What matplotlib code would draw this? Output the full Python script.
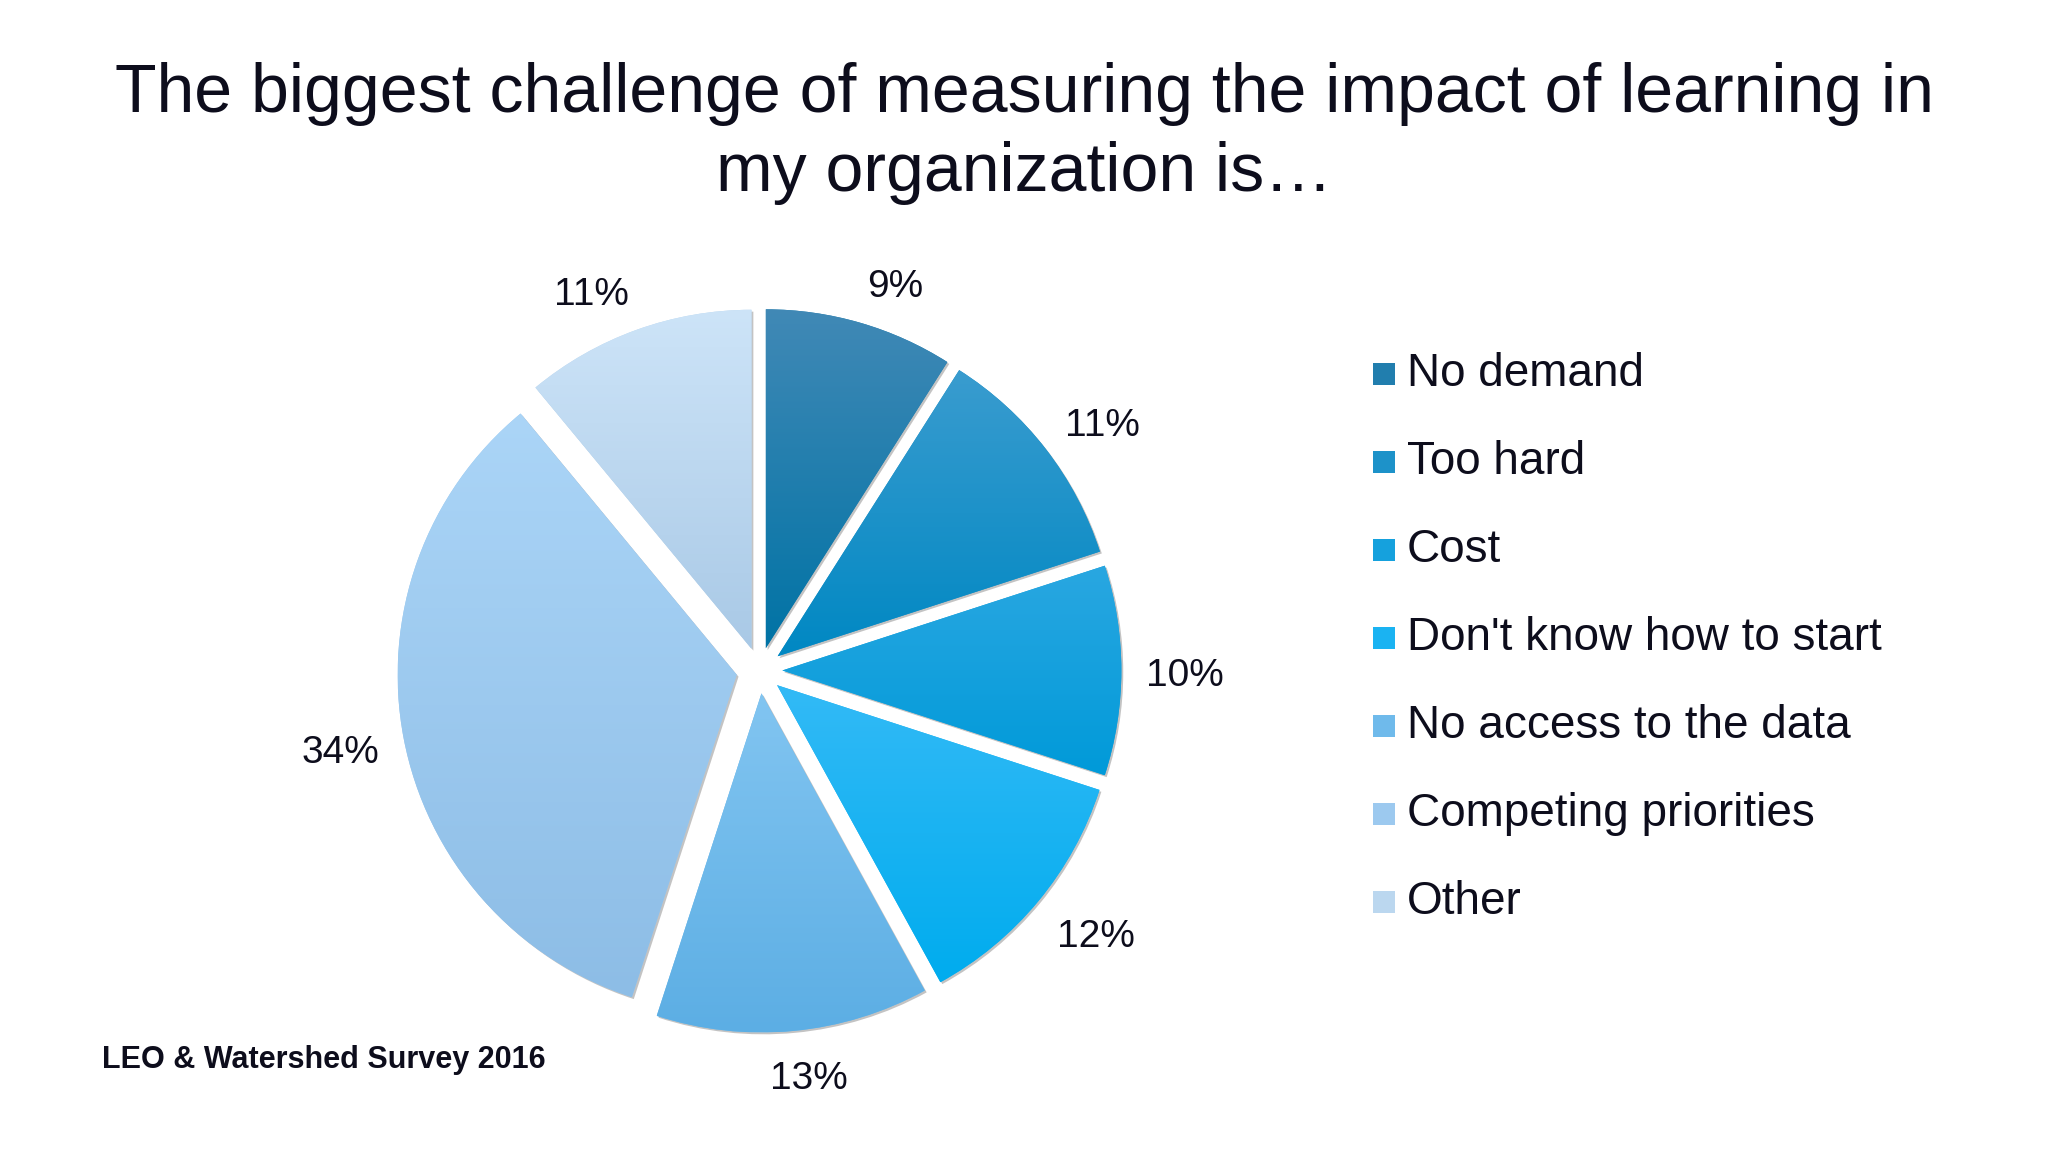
import numpy as np
import matplotlib
matplotlib.use("Agg")
import matplotlib.pyplot as plt
from matplotlib.colors import to_rgb
from matplotlib.patches import Rectangle, Shadow

plt.rcParams["font.family"] = ["Liberation Sans", "DejaVu Sans"]

TITLE = "The biggest challenge of measuring the impact of learning in\nmy organization is\u2026"
SOURCE = "LEO & Watershed Survey 2016"
CATEGORIES = ["No demand", "Too hard", "Cost", "Don't know how to start",
              "No access to the data", "Competing priorities", "Other"]
VALUES = [9, 11, 10, 12, 13, 34, 11]
# gradient colours per slice: top, bottom
TOP_COLORS = ["#4189b6", "#3a9ccf", "#2aa7e1", "#33baf6", "#82c5f1", "#abd5f7", "#cde4f8"]
BOTTOM_COLORS = ["#0073a5", "#0088c3", "#009ad9", "#00acee", "#5caee4", "#8dbde6", "#a9c9e6"]
TEXT_COLOR = "#0d0d1c"

fig = plt.figure(figsize=(20.48, 11.52), dpi=100)
fig.patch.set_facecolor("white")

# pie axes: radius 1 in data units, centred where the reference pie sits
ax = fig.add_axes([0.139, 0.006, 0.4635, 0.824])
ax.set_xlim(-1.4, 1.4)
ax.set_ylim(-1.4, 1.4)
ax.set_aspect("equal")
ax.axis("off")

mids = [tuple((np.array(to_rgb(t)) + np.array(to_rgb(b))) / 2) for t, b in zip(TOP_COLORS, BOTTOM_COLORS)]
wedges, _ = ax.pie(
    VALUES, explode=[0.068] * len(VALUES), startangle=90, counterclock=False,
    colors=mids, radius=1, wedgeprops={"linewidth": 0},
)

for w, top, bot in zip(wedges, TOP_COLORS, BOTTOM_COLORS):
    sh = Shadow(w, 0.004, -0.004)
    sh.set_facecolor("#555555")
    sh.set_alpha(0.35)
    sh.set_zorder(w.get_zorder() - 0.5)
    ax.add_patch(sh)
    ext = w.get_path().get_extents()
    t = np.linspace(0, 1, 256)[:, None]
    grad = (1 - t) * np.array(to_rgb(bot)) + t * np.array(to_rgb(top))
    img = ax.imshow(grad[:, None, :], extent=[ext.x0, ext.x1, ext.y0, ext.y1],
                    origin="lower", aspect="auto", zorder=w.get_zorder() + 0.1,
                    interpolation="bilinear")
    img.set_clip_path(w)

ax.set_xlim(-1.4, 1.4)
ax.set_ylim(-1.4, 1.4)

# percentage labels, "outside end": the label box is pushed off a ring
# around the pie, towards the side the slice points at
renderer = fig.canvas.get_renderer()
px_per_unit = ax.transData.transform((1, 0))[0] - ax.transData.transform((0, 0))[0]
r0 = 1.14
kx, ky = 3.6, 1.2
y_nudge = -6 / px_per_unit  # bbox centre sits a little above the glyph centre
for w, v in zip(wedges, VALUES):
    phi = np.deg2rad((w.theta1 + w.theta2) / 2)
    c, s = np.cos(phi), np.sin(phi)
    txt = ax.text(0, 0, f"{v}%", ha="center", va="center", fontsize=28, color=TEXT_COLOR)
    bb = txt.get_window_extent(renderer)
    hw, hh = bb.width / 2 / px_per_unit, bb.height / 2 / px_per_unit
    x = r0 * c + hw * np.clip(kx * c, -1, 1)
    y = r0 * s + hh * np.clip(ky * s, -1, 1) + y_nudge
    txt.set_position((x, y))

fig.text(0.5, 0.884, TITLE, ha="center", va="center", fontsize=49,
         color=TEXT_COLOR, linespacing=1.31)
fig.text(0.05, 0.080, SOURCE, ha="left", va="center", fontsize=22,
         fontweight="bold", color=TEXT_COLOR)

# legend, drawn row by row
sq_w = 22 / 2048
sq_h = 22 / 1152
for i, label in enumerate(CATEGORIES):
    y = 0.675 - i * 0.0764
    fig.patches.append(Rectangle((0.6705, y - sq_h / 2), sq_w, sq_h,
                                 transform=fig.transFigure, facecolor=mids[i],
                                 edgecolor="none"))
    fig.text(0.687, y, label, ha="left", va="center", fontsize=33, color=TEXT_COLOR)

fig.savefig("out.png", dpi=100, facecolor="white")
